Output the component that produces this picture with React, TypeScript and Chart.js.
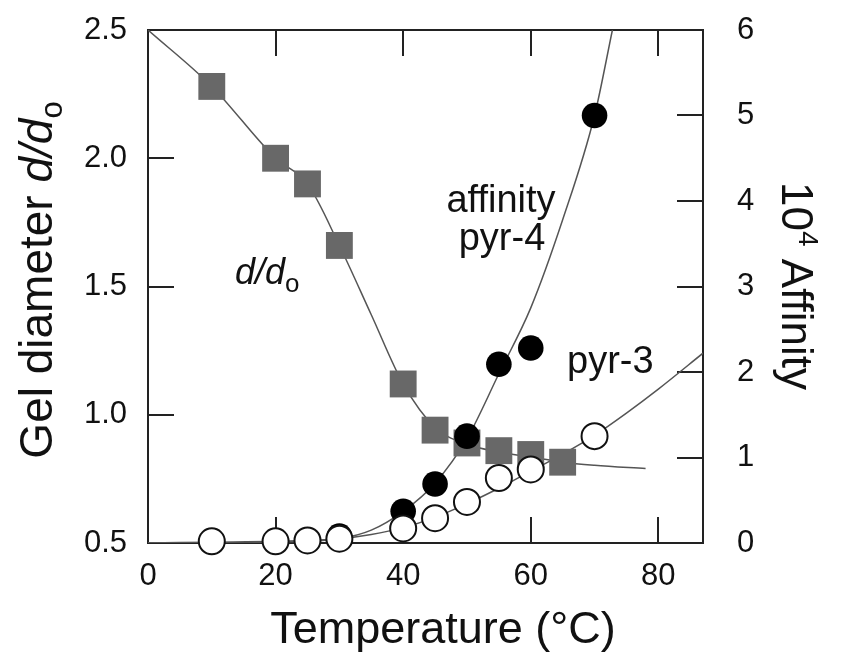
import React, { useEffect, useRef } from "react";
import { Chart, registerables } from "chart.js";

Chart.register(...registerables);

// Gel diameter d/do (left axis)
const diamTemps = [10, 20, 25, 30, 40, 45, 50, 55, 60, 65];
const diamValues = [2.28, 2.0, 1.9, 1.66, 1.12, 0.94, 0.89, 0.86, 0.845, 0.815];
const diamFitTemps = [0, 10, 20, 25, 30, 35, 40, 45, 50, 55, 60, 65, 70, 78];
const diamFitValues = [2.5, 2.28, 2.0, 1.9, 1.66, 1.39, 1.12, 0.95, 0.885, 0.855, 0.835, 0.815, 0.803, 0.79];

// Affinity pyr-4 (right axis, filled circles)
const pyr4Temps = [30, 40, 45, 50, 55, 60, 70];
const pyr4Values = [0.08, 0.37, 0.69, 1.25, 2.09, 2.28, 5.0];
const pyr4FitTemps = [0, 10, 20, 30, 35, 40, 45, 50, 55, 60, 65, 70, 72.8];
const pyr4FitValues = [0.0, 0.0, 0.01, 0.05, 0.15, 0.37, 0.7, 1.22, 1.98, 2.75, 3.78, 5.0, 6.0];

// Affinity pyr-3 (right axis, open circles)
const pyr3Temps = [10, 20, 25, 30, 40, 45, 50, 55, 60, 70];
const pyr3Values = [0.02, 0.02, 0.03, 0.05, 0.17, 0.29, 0.48, 0.76, 0.86, 1.25];
const pyr3FitTemps = [0, 10, 20, 30, 35, 40, 45, 50, 55, 60, 65, 70, 75, 80, 87];
const pyr3FitValues = [0.0, 0.01, 0.02, 0.05, 0.1, 0.18, 0.3, 0.46, 0.64, 0.84, 1.04, 1.26, 1.52, 1.8, 2.22];

// Axes
const xTicks = [20, 40, 60, 80];
const yLeftTicks = [1.0, 1.5, 2.0];
const yRightTicks = [1, 2, 3, 4, 5];

const FONT = '"Liberation Sans", Arial, Helvetica, sans-serif';
const INK = "#111";
const LINE = "#555";

const zip = (xs: number[], ys: number[]) => xs.map((x, i) => ({ x, y: ys[i] }));

type Run = { t: string; size: number; italic?: boolean; dy?: number };

function drawRuns(
  ctx: CanvasRenderingContext2D,
  runs: Run[],
  x: number,
  y: number,
  angle: number,
  align: "center" | "left"
) {
  ctx.save();
  ctx.translate(x, y);
  ctx.rotate(angle);
  ctx.textBaseline = "alphabetic";
  ctx.textAlign = "left";
  ctx.fillStyle = INK;
  const f = (r: Run) => `${r.italic ? "italic " : ""}${r.size}px ${FONT}`;
  const widths = runs.map((r) => {
    ctx.font = f(r);
    return ctx.measureText(r.t).width;
  });
  const total = widths.reduce((a, b) => a + b, 0);
  let cx = align === "center" ? -total / 2 : 0;
  runs.forEach((r, i) => {
    ctx.font = f(r);
    ctx.fillText(r.t, cx, r.dy || 0);
    cx += widths[i];
  });
  ctx.restore();
}

const framePlugin = {
  id: "frameTicks",
  beforeDatasetsDraw(chart: any) {
    const ctx: CanvasRenderingContext2D = chart.ctx;
    const { left, right, top, bottom } = chart.chartArea;
    const sx = chart.scales.x;
    const sy = chart.scales.y;
    const sy1 = chart.scales.y1;
    const tl = 26;
    ctx.save();
    ctx.strokeStyle = "#222";
    ctx.lineWidth = 2;
    ctx.strokeRect(left, top, right - left, bottom - top);
    ctx.beginPath();
    xTicks.forEach((v) => {
      const px = Math.round(sx.getPixelForValue(v));
      ctx.moveTo(px, bottom);
      ctx.lineTo(px, bottom - tl);
      ctx.moveTo(px, top);
      ctx.lineTo(px, top + tl);
    });
    yLeftTicks.forEach((v) => {
      const py = Math.round(sy.getPixelForValue(v));
      ctx.moveTo(left, py);
      ctx.lineTo(left + tl, py);
    });
    yRightTicks.forEach((v) => {
      const py = Math.round(sy1.getPixelForValue(v));
      ctx.moveTo(right, py);
      ctx.lineTo(right - tl, py);
    });
    ctx.stroke();
    ctx.restore();
  },
  afterDraw(chart: any) {
    const ctx: CanvasRenderingContext2D = chart.ctx;
    // Axis titles
    drawRuns(ctx, [{ t: "Temperature (°C)", size: 45 }], 443, 643, 0, "center");
    drawRuns(
      ctx,
      [
        { t: "Gel diameter ", size: 46 },
        { t: "d/d", size: 46, italic: true },
        { t: "o", size: 31, dy: 10 },
      ],
      52,
      280,
      -Math.PI / 2,
      "center"
    );
    drawRuns(
      ctx,
      [
        { t: "10", size: 44 },
        { t: "4", size: 28, dy: -17 },
        { t: " Affinity", size: 44 },
      ],
      782,
      286,
      Math.PI / 2,
      "center"
    );
    // In-plot labels
    drawRuns(ctx, [{ t: "affinity", size: 38 }], 501, 212, 0, "center");
    drawRuns(ctx, [{ t: "pyr-4", size: 38 }], 502, 250, 0, "center");
    drawRuns(ctx, [{ t: "pyr-3", size: 38 }], 567, 373, 0, "left");
    drawRuns(
      ctx,
      [
        { t: "d/d", size: 36, italic: true },
        { t: "o", size: 26, dy: 8 },
      ],
      235,
      284,
      0,
      "left"
    );
  },
};

const fixVertical = (w: number) => (s: any) => {
  s.width = w;
  s.paddingTop = 0;
  s.paddingBottom = 0;
};

export default function App() {
  const ref = useRef<HTMLCanvasElement | null>(null);

  useEffect(() => {
    document.body.style.margin = "0";
    if (!ref.current) return;
    const chart = new Chart(ref.current, {
      type: "scatter",
      data: {
        datasets: [
          {
            label: "pyr-3",
            data: zip(pyr3Temps, pyr3Values),
            yAxisID: "y1",
            showLine: false,
            pointStyle: "circle",
            pointRadius: 13,
            pointBackgroundColor: "#fff",
            pointBorderColor: "#111",
            pointBorderWidth: 2,
            clip: false,
          } as any,
          {
            label: "pyr-4",
            data: zip(pyr4Temps, pyr4Values),
            yAxisID: "y1",
            showLine: false,
            pointStyle: "circle",
            pointRadius: 12.8,
            pointBackgroundColor: "#000",
            pointBorderColor: "#000",
            pointBorderWidth: 0,
            clip: false,
          } as any,
          {
            label: "d/do",
            data: zip(diamTemps, diamValues),
            yAxisID: "y",
            showLine: false,
            pointStyle: "rect",
            pointRadius: 19,
            pointBackgroundColor: "#686868",
            pointBorderColor: "#686868",
            pointBorderWidth: 0,
            clip: false,
          } as any,
          {
            label: "pyr-3 fit",
            data: zip(pyr3FitTemps, pyr3FitValues),
            yAxisID: "y1",
            showLine: true,
            pointRadius: 0,
            borderColor: LINE,
            borderWidth: 1.5,
            cubicInterpolationMode: "monotone",
          } as any,
          {
            label: "pyr-4 fit",
            data: zip(pyr4FitTemps, pyr4FitValues),
            yAxisID: "y1",
            showLine: true,
            pointRadius: 0,
            borderColor: LINE,
            borderWidth: 1.5,
            cubicInterpolationMode: "monotone",
          } as any,
          {
            label: "d/do fit",
            data: zip(diamFitTemps, diamFitValues),
            yAxisID: "y",
            showLine: true,
            pointRadius: 0,
            borderColor: LINE,
            borderWidth: 1.5,
            cubicInterpolationMode: "monotone",
          } as any,
        ],
      },
      options: {
        animation: false,
        responsive: false,
        maintainAspectRatio: false,
        devicePixelRatio: 1,
        layout: { padding: { top: 30, left: 0, right: 0, bottom: 0 } },
        plugins: {
          legend: { display: false },
          tooltip: { enabled: false },
        },
        events: [],
        scales: {
          x: {
            type: "linear",
            position: "bottom",
            min: 0,
            max: 87,
            grid: { display: false },
            border: { display: false },
            ticks: {
              stepSize: 20,
              includeBounds: false,
              padding: 7,
              color: INK,
              font: { family: FONT, size: 31 },
              maxRotation: 0,
            },
            afterFit: (s: any) => {
              s.height = 118;
              s.paddingLeft = 0;
              s.paddingRight = 0;
            },
          },
          y: {
            type: "linear",
            position: "left",
            min: 0.5,
            max: 2.5,
            grid: { display: false },
            border: { display: false },
            ticks: {
              stepSize: 0.5,
              padding: 13,
              color: INK,
              font: { family: FONT, size: 31 },
              callback: (v: any) => Number(v).toFixed(1),
            },
            afterFit: fixVertical(148),
          },
          y1: {
            type: "linear",
            position: "right",
            min: 0,
            max: 6,
            grid: { display: false },
            border: { display: false },
            ticks: {
              stepSize: 1,
              padding: 26,
              color: INK,
              font: { family: FONT, size: 31 },
            },
            afterFit: fixVertical(138),
          },
        },
      } as any,
      plugins: [framePlugin],
    });
    return () => chart.destroy();
  }, []);

  return (
    <div style={{ width: 841, height: 661, background: "#fff" }}>
      <canvas ref={ref} width={841} height={661} style={{ display: "block" }} />
    </div>
  );
}
